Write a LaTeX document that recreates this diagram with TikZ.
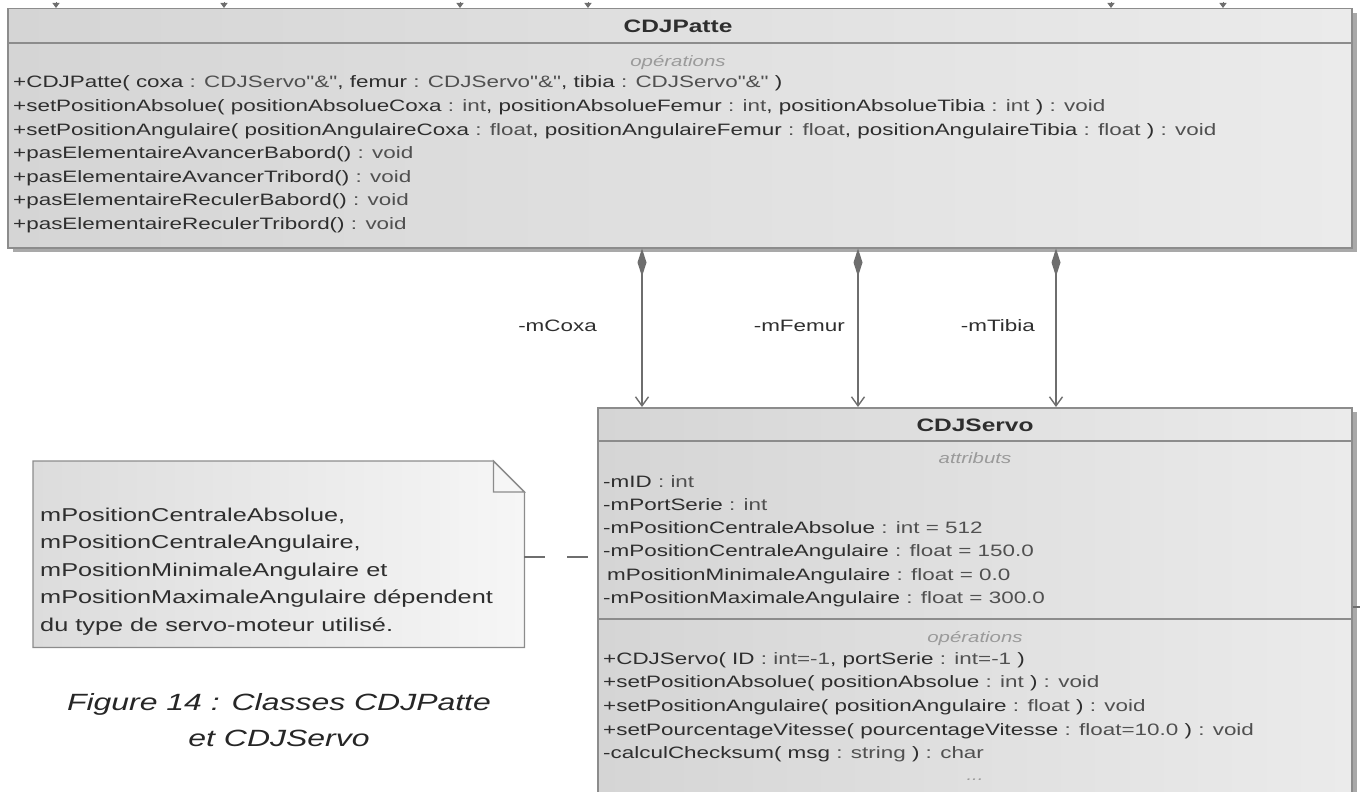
\documentclass[tikz,border=0pt]{standalone}
\usepackage{fontspec}
\setmainfont{Liberation Sans}
\newfontfamily\uml[FakeStretch=1.36]{Liberation Sans}
\usetikzlibrary{arrows.meta,shadows}
\definecolor{bordercol}{HTML}{8C8C8C}
\definecolor{fillL}{HTML}{D5D5D5}
\definecolor{fillR}{HTML}{EBEBEB}
\definecolor{noteL}{HTML}{DCDCDC}
\definecolor{noteR}{HTML}{F6F6F6}
\definecolor{namecol}{HTML}{2E2E2E}
\definecolor{typecol}{HTML}{505050}
\definecolor{seccol}{HTML}{9A9A9A}
\definecolor{linecol}{HTML}{6E6E6E}
\definecolor{shadowcol}{HTML}{A9A9A9}
\newcommand{\ty}[1]{\textcolor{typecol}{#1}}
\begin{document}
\begin{tikzpicture}[x=1pt,y=-1pt,
  classbox/.style={draw=bordercol, line width=1.5pt, left color=fillL, right color=fillR,
    inner sep=0pt, anchor=north west,
    drop shadow={shadow xshift=5pt, shadow yshift=-4pt, fill=shadowcol, opacity=1}},
  member/.style={anchor=base west, inner sep=0pt, text=namecol, font=\uml\fontsize{16.5}{20}\selectfont},
  sect/.style={anchor=base, inner sep=0pt, text=seccol, font=\uml\itshape\fontsize{15}{18}\selectfont},
  classtitle/.style={anchor=base, inner sep=0pt, text=namecol, font=\uml\bfseries\fontsize{18}{20}\selectfont},
  sepline/.style={draw=bordercol, line width=1.5pt},
  comp/.style={draw=linecol, line width=1.4pt,
    {Diamond[length=28pt,width=9pt,fill=linecol]}-{Straight Barb[length=9pt,width=13pt]}},
  rolelabel/.style={anchor=base east, inner sep=0pt, text=namecol, font=\uml\fontsize{16.5}{20}\selectfont},
  tickline/.style={draw=linecol, line width=1pt, -{Triangle[length=5pt,width=7pt]}},
  notetext/.style={anchor=base west, inner sep=0pt, text=namecol, font=\uml\fontsize{18.6}{24}\selectfont},
  notelink/.style={draw=linecol, line width=1.3pt, dash pattern=on 21pt off 22pt},
  caption/.style={anchor=base, inner sep=0pt, text=black!85, font=\uml\itshape\fontsize{23.5}{30}\selectfont}
]
\useasboundingbox (0,0) rectangle (1360,792);
\clip (0,0) rectangle (1360,792);

% ---------- CDJPatte ----------
\node[classbox, minimum width=1344pt, minimum height=239pt] (patte) at (7,8) {};
\draw[sepline] ([yshift=-35pt]patte.north west) -- ([yshift=-35pt]patte.north east);
\node[classtitle] (pattetitle) at (678,32.5) {CDJPatte};
\node[sect] (patteops) at (678,66.5) {opérations};
\node[member] (p1) at (13,88) {+CDJPatte( coxa \ty{: CDJServo"\&"}, femur \ty{: CDJServo"\&"}, tibia \ty{: CDJServo"\&"} )};
\node[member] (p2) at (13,111.5) {+setPositionAbsolue( positionAbsolueCoxa \ty{: int}, positionAbsolueFemur \ty{: int}, positionAbsolueTibia \ty{: int} ) \ty{: void}};
\node[member] (p3) at (13,135) {+setPositionAngulaire( positionAngulaireCoxa \ty{: float}, positionAngulaireFemur \ty{: float}, positionAngulaireTibia \ty{: float} ) \ty{: void}};
\node[member] (p4) at (13,158.5) {+pasElementaireAvancerBabord() \ty{: void}};
\node[member] (p5) at (13,182) {+pasElementaireAvancerTribord() \ty{: void}};
\node[member] (p6) at (13,205.5) {+pasElementaireReculerBabord() \ty{: void}};
\node[member] (p7) at (13,229) {+pasElementaireReculerTribord() \ty{: void}};

% ticks of connectors coming from above
\foreach \x [count=\i] in {56,224,460,588,1111,1223} {
  \coordinate (t\i) at (\x,2);
  \draw[tickline] (t\i) -- (t\i |- patte.north);
}

% ---------- CDJServo ----------
\node[classbox, minimum width=754pt, minimum height=420pt] (servo) at (597,407) {};
\draw[sepline] ([yshift=-34pt]servo.north west) -- ([yshift=-34pt]servo.north east);
\draw[sepline] ([yshift=-212pt]servo.north west) -- ([yshift=-212pt]servo.north east);
\node[classtitle] (servotitle) at (975,431.5) {CDJServo};
\node[sect] (servoattr) at (975,463) {attributs};
\node[member] (a1) at (603,487) {-mID \ty{: int}};
\node[member] (a2) at (603,510.3) {-mPortSerie \ty{: int}};
\node[member] (a3) at (603,533.6) {-mPositionCentraleAbsolue \ty{: int = 512}};
\node[member] (a4) at (603,556.9) {-mPositionCentraleAngulaire \ty{: float = 150.0}};
\node[member] (a5) at (607,580.2) {mPositionMinimaleAngulaire \ty{: float = 0.0}};
\node[member] (a6) at (603,603.5) {-mPositionMaximaleAngulaire \ty{: float = 300.0}};
\node[sect] (servoops) at (975,642) {opérations};
\node[member] (o1) at (603,664) {+CDJServo( ID \ty{: int=-1}, portSerie \ty{: int=-1} )};
\node[member] (o2) at (603,687.7) {+setPositionAbsolue( positionAbsolue \ty{: int} ) \ty{: void}};
\node[member] (o3) at (603,711.4) {+setPositionAngulaire( positionAngulaire \ty{: float} ) \ty{: void}};
\node[member] (o4) at (603,735.1) {+setPourcentageVitesse( pourcentageVitesse \ty{: float=10.0} ) \ty{: void}};
\node[member] (o5) at (603,758.8) {-calculChecksum( msg \ty{: string} ) \ty{: char}};
\node[sect] (o6) at (975,780) {...};

% outgoing connector stub at right
\coordinate (rstub) at (1360,607);
\draw[draw=linecol, line width=1.2pt] (rstub -| servo.east) -- (rstub);

% ---------- compositions ----------
\foreach \x [count=\i] in {642,858,1056} {
  \coordinate (c\i) at (\x,0);
  \draw[comp] (c\i |- patte.south) -- (c\i |- servo.north);
}
\node[rolelabel] (lcoxa) at (597,331) {-mCoxa};
\node[rolelabel] (lfemur) at (845,331) {-mFemur};
\node[rolelabel] (ltibia) at (1035,331) {-mTibia};

% ---------- note ----------
\node[inner sep=0pt, minimum width=491pt, minimum height=186pt, anchor=north west] (note) at (33,461) {};
\begin{scope}[shift={(5,5)}]
\fill[shadowcol]
  (note.north west) -- ([xshift=-31pt]note.north east) -- ([yshift=-31pt]note.north east)
  -- (note.south east) -- (note.south west) -- cycle;
\end{scope}
\draw[draw=bordercol, line width=1.3pt, left color=noteL, right color=noteR]
  (note.north west) -- ([xshift=-31pt]note.north east) -- ([yshift=-31pt]note.north east)
  -- (note.south east) -- (note.south west) -- cycle;
\draw[draw=bordercol, line width=1.3pt, fill=noteR]
  ([xshift=-31pt]note.north east) -- ([shift={(-31pt,-31pt)}]note.north east) -- ([yshift=-31pt]note.north east) -- cycle;
\node[notetext] (n1) at (40,521) {mPositionCentraleAbsolue,};
\node[notetext] (n2) at (40,548.5) {mPositionCentraleAngulaire,};
\node[notetext] (n3) at (40,576) {mPositionMinimaleAngulaire et};
\node[notetext] (n4) at (40,603.5) {mPositionMaximaleAngulaire dépendent};
\node[notetext] (n5) at (40,631) {du type de servo-moteur utilisé.};

\coordinate (nlink) at (524,557);
\draw[notelink] (nlink) -- (nlink -| servo.west);

% ---------- caption ----------
\node[caption] (cap1) at (279,710.5) {Figure 14 : Classes CDJPatte};
\node[caption] (cap2) at (279,746.5) {et CDJServo};
\end{tikzpicture}
\end{document}
